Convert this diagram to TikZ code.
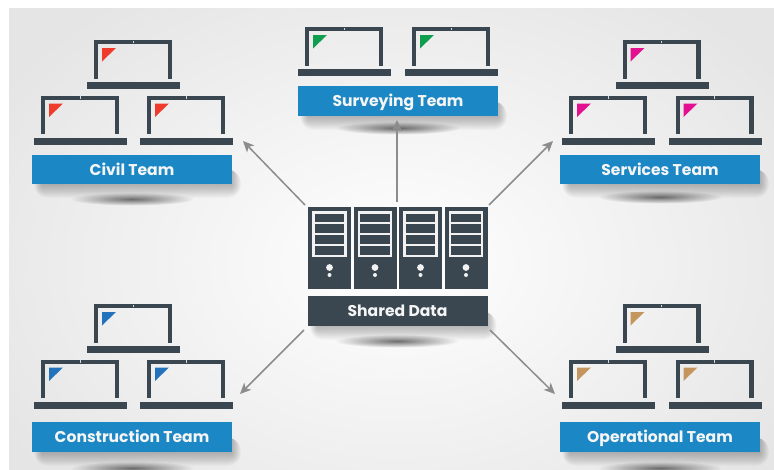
\documentclass[tikz,border=0pt]{standalone}
\usepackage{fontspec}
\setmainfont{Poppins}
\usetikzlibrary{fadings,arrows.meta}
\definecolor{slate}{HTML}{3A4750}
\definecolor{teamblue}{HTML}{1B87C5}
\definecolor{civilred}{HTML}{EE3B2B}
\definecolor{surveygreen}{HTML}{0F9D4F}
\definecolor{servicepink}{HTML}{E3118F}
\definecolor{constructblue}{HTML}{2273BB}
\definecolor{operationtan}{HTML}{C4965E}
\tikzfading[name=softspot, inner color=transparent!25, outer color=transparent!100]
\tikzset{
  teambox/.style={fill=teamblue, text=white!96!black, font=\fontsize{15.6}{18}\selectfont\bfseries, text height=11pt, text depth=0pt, minimum width=200pt, minimum height=29.5pt, inner sep=0pt},
  databox/.style={fill=slate, text=white!96!black, font=\fontsize{15.6}{18}\selectfont\bfseries, text height=11pt, text depth=0pt, minimum width=180pt, minimum height=30pt, inner sep=0pt},
  towerbox/.style={fill=slate, minimum width=43pt, minimum height=82pt, inner sep=0pt},
  link/.style={draw=black!45, line width=1.5pt, -{Stealth[length=11pt,width=10pt,inset=3pt]}},
  floorshade/.style={fill=black!75, path fading=softspot}
}
% soft shadow under a box: centre x, bottom y, half width
\newcommand{\boxshade}[3]{
\foreach \grow in {0,1,...,13}{
\fill[black, opacity=0.018, rounded corners=\grow pt] (#1-#3+10-0.6*\grow,#2-14) rectangle (#1+#3+\grow*0.7,#2+1+\grow);
}
}
% laptop: left edge of the screen, top edge, colour of the corner
\newcommand{\laptop}[3]{
\begin{scope}[shift={(#1,#2)}]
\draw[slate, line width=4.4pt, line join=miter] (2.2,38.5) -- (2.2,2.2) -- (75.8,2.2) -- (75.8,38.5);
\fill[slate] (-7,42) rectangle (86,49);
\fill[#3] (8,8) -- (22,8) -- (8,21.5) -- cycle;
\fill[white!85!black] (38.5,0.6) rectangle (39.5,3);
\end{scope}
}
% server tower: centre x of tower
\newcommand{\tower}[2]{
\node[towerbox] (#2) at (#1,248) {};
\draw[white!95!black, line width=2.6pt] (#1-16,212.3) rectangle (#1+16,256);
\draw[white!95!black, line width=1.8pt] (#1-16,223) -- (#1+16,223);
\draw[white!95!black, line width=1.8pt] (#1-16,234) -- (#1+16,234);
\draw[white!95!black, line width=1.8pt] (#1-16,245) -- (#1+16,245);
\fill[white!95!black] (#1,267.5) circle [radius=3.4pt];
\fill[white!95!black] (#1,275) circle [radius=2pt];
}
\begin{document}
\begin{tikzpicture}[x=1pt,y=-1pt]
\useasboundingbox (0,0) rectangle (774,469);
\fill[white] (0,0) rectangle (774,469);
\begin{scope}
\clip (9,8) rectangle (774,469);
\shade[inner color=white, middle color=white, outer color=black!10] (-60,-60) rectangle (854,584);
\end{scope}

% floor shadows
\fill[floorshade] (132,199) ellipse [x radius=62pt, y radius=6.5pt];
\fill[floorshade] (398,128) ellipse [x radius=62pt, y radius=6.5pt];
\fill[floorshade] (660,197) ellipse [x radius=62pt, y radius=6.5pt];
\fill[floorshade] (397,341) ellipse [x radius=62pt, y radius=6.5pt];
\fill[floorshade] (132,468) ellipse [x radius=62pt, y radius=6.5pt];
\fill[floorshade] (660,468) ellipse [x radius=62pt, y radius=6.5pt];
\boxshade{132}{184}{100}
\boxshade{398}{116}{100}
\boxshade{660}{184}{100}
\boxshade{397.5}{326}{90}
\boxshade{132}{452}{100}
\boxshade{660}{452}{100}

% teams
\node[teambox] (civil) at (132,169.5) {Civil Team};
\laptop{94}{40}{civilred}
\laptop{41}{95.5}{civilred}
\laptop{147}{95.5}{civilred}

\node[teambox] (surveying) at (398,101) {Surveying Team};
\laptop{305}{27}{surveygreen}
\laptop{412}{27}{surveygreen}

\node[teambox] (services) at (660,169.5) {Services Team};
\laptop{622.5}{40}{servicepink}
\laptop{569}{95.5}{servicepink}
\laptop{675.5}{95.5}{servicepink}

\node[teambox] (construction) at (132,437) {Construction Team};
\laptop{94}{304}{constructblue}
\laptop{41}{359.5}{constructblue}
\laptop{147}{359.5}{constructblue}

\node[teambox] (operational) at (660,437) {Operational Team};
\laptop{622.5}{304}{operationtan}
\laptop{569}{359.5}{operationtan}
\laptop{675.5}{359.5}{operationtan}

% shared data
\node[databox] (shared) at (397.5,311) {Shared Data};
\tower{329.5}{towera}
\tower{375}{towerb}
\tower{420.5}{towerc}
\tower{466}{towerd}

\coordinate (civilend) at (243,141);
\coordinate (surveyingend) at (397,120);
\coordinate (servicesend) at (553,141);
\coordinate (constructionend) at (240,394);
\coordinate (operationalend) at (555,394);
\coordinate (civilstart) at (305,205);
\coordinate (surveyingstart) at (397,202);
\coordinate (servicesstart) at (489,205);
\coordinate (constructionstart) at (304,330);
\coordinate (operationalstart) at (490,330);
\draw[link] (civilstart) -- (civilend);
\draw[link] (surveyingstart) -- (surveyingend);
\draw[link] (servicesstart) -- (servicesend);
\draw[link] (constructionstart) -- (constructionend);
\draw[link] (operationalstart) -- (operationalend);
\end{tikzpicture}
\end{document}
